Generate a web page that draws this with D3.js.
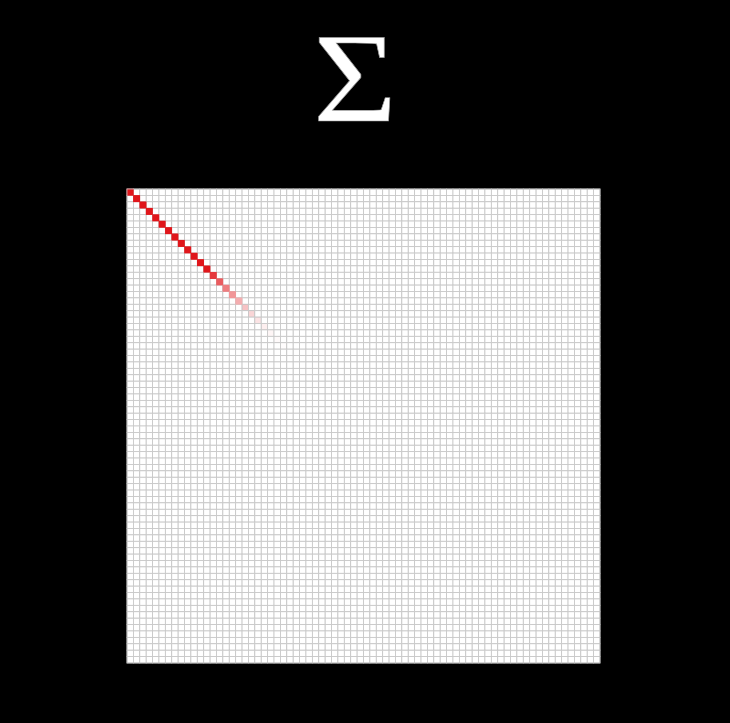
<!DOCTYPE html>
<html><head><meta charset="utf-8">
<script src="https://cdn.jsdelivr.net/npm/d3@7"></script>
<style>html,body{margin:0;padding:0;background:#000;}svg{display:block;}</style>
</head><body>
<svg id="chart" width="730" height="723"></svg>
<script>
const title = "Σ";
const nCells = 74;
// diagonal intensity (first entries), remaining diagonal and all off-diagonal cells are 0
const diagValues = [1,1,1,1,1,1,1,1,1,1,1,1,1,0.85,0.7,0.56,0.45,0.35,0.26,0.18,0.12,0.07,0.04,0.02,0.01];
const indices = d3.range(nCells);

const cells = [];
indices.forEach(r => indices.forEach(c => {
  const v = (r === c && r < diagValues.length) ? diagValues[r] : 0;
  cells.push({r, c, v});
}));

const svg = d3.select("#chart");
svg.append("rect").attr("width",730).attr("height",723).attr("fill","#000");

svg.append("text").text(title)
  .attr("transform","translate(355,121) scale(1.13,1)")
  .attr("text-anchor","middle")
  .attr("font-family","'Liberation Serif', 'DejaVu Serif', serif")
  .attr("font-size",128)
  .attr("fill","#fff")
  .attr("stroke","#999").attr("stroke-width",0.6);

const x = d3.scaleBand().domain(indices).range([127,600]);
const y = d3.scaleBand().domain(indices).range([189,663]);
const color = d3.scaleLinear().domain([0,1]).range(["#ffffff","#e0161b"]).interpolate(d3.interpolateRgb);

svg.append("g").selectAll("rect").data(cells).join("rect")
  .attr("x", d => x(d.c)).attr("y", d => y(d.r))
  .attr("width", x.bandwidth()).attr("height", y.bandwidth())
  .attr("fill", d => color(d.v))
  .attr("stroke","#c8c8c8").attr("stroke-width",0.8);

// strongly colored cells drawn on top so the grid does not thin them
svg.append("g").selectAll("rect").data(cells.filter(d => d.v > 0.3)).join("rect")
  .attr("x", d => x(d.c) - 0.3).attr("y", d => y(d.r) - 0.3)
  .attr("width", x.bandwidth() + 0.6).attr("height", y.bandwidth() + 0.6)
  .attr("fill", d => color(d.v));

svg.append("rect").attr("x",127).attr("y",189).attr("width",473).attr("height",474)
  .attr("fill","none").attr("stroke","#bbb").attr("stroke-width",0.8);
</script>
</body></html>
